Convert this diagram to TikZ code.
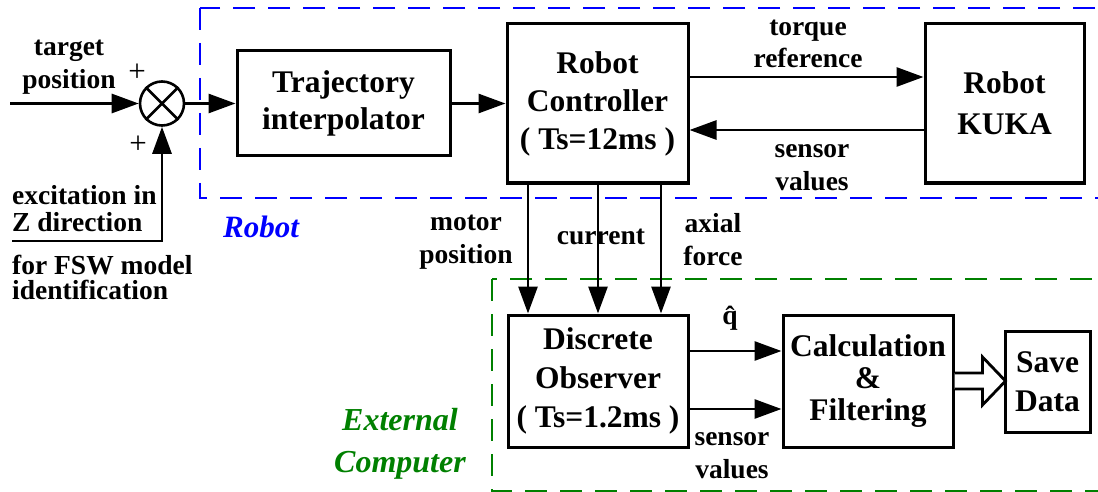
\documentclass[tikz,border=0pt]{standalone}
\usepackage{fontspec}
\setmainfont{Liberation Serif}
\usetikzlibrary{arrows.meta}
\definecolor{dgreen}{RGB}{0,128,0}
\begin{document}
\begin{tikzpicture}[x=1pt,y=-1pt,
  blk/.style={draw, line width=3pt, inner sep=0pt, align=center},
  bt/.style={font=\fontsize{31.5}{#1}\selectfont\bfseries},
  lbl/.style={inner sep=0pt, align=center, font=\fontsize{27.5}{#1}\selectfont\bfseries},
  lbl/.default=33,
  arr/.style={line width=2.8pt, -{Triangle[length=27pt,width=19pt]}},
  ln/.style={line width=2.8pt},
  zone/.style={line width=2.6pt, dash pattern=on 22pt off 13pt}]
\useasboundingbox (0,0) rectangle (1098,492);
\clip (0,0) rectangle (1098,492);
% zones
\draw[zone, blue] (200,8) rectangle (1140,198);
\draw[zone, dgreen] (492,279) rectangle (1140,491);
\node[inner sep=0pt, text=blue, font=\fontsize{31}{36}\selectfont\bfseries\itshape] (zr) at (261,227) {Robot};
\node[inner sep=0pt, align=center, text=dgreen, font=\fontsize{32}{42}\selectfont\bfseries\itshape] (ze) at (400,444) {External\\Computer};
% blocks
\node[circle, draw, line width=2.6pt, minimum size=44pt, inner sep=0pt] (sum) at (162,103.5) {};
\draw[ln] (sum.north west) -- (sum.south east) (sum.north east) -- (sum.south west);
\node[blk, bt=37, minimum width=213pt, minimum height=105pt] (traj) at (343.5,103.5) {Trajectory\\interpolator};
\node[blk, bt=38, minimum width=181pt, minimum height=159pt] (ctrl) at (597.5,103.5) {Robot\\Controller\\( Ts=12ms )};
\node[blk, bt=41, minimum width=159pt, minimum height=159pt] (kuka) at (1004.5,103.5) {Robot\\KUKA};
\node[blk, bt=39, minimum width=180pt, minimum height=132pt] (obs) at (598,381) {Discrete\\Observer\\( Ts=1.2ms )};
\node[blk, bt=32, minimum width=170pt, minimum height=132pt] (calc) at (868,381) {Calculation\\\&\\Filtering};
\node[blk, bt=39, minimum width=85pt, minimum height=101pt] (save) at (1047.5,381.5) {Save\\Data};
% inputs
\coordinate (tin) at (10,103.5);
\coordinate (exc) at (12,241);
\draw[arr] (tin) -- (sum);
\draw[arr] (exc) -| (sum.south);
\node[inner sep=0pt, font=\fontsize{31}{31}\selectfont] (p1) at (137,73) {+};
\node[inner sep=0pt, font=\fontsize{31}{31}\selectfont] (p2) at (138,145) {+};
\node[lbl] (ltp) at (69,67.5) {target\\position};
\node[lbl=27, anchor=west, align=left] (lex) at (12,208.5) {excitation in\\Z direction};
\node[lbl=25, anchor=west, align=left] (lfsw) at (12,277) {for FSW model\\identification};
% main chain
\draw[arr] (sum) -- (traj);
\draw[arr] (traj) -- (ctrl);
\coordinate (tq) at (0,77);
\coordinate (sv) at (0,130);
\draw[arr] (ctrl.east |- tq) -- (kuka.west |- tq);
\draw[arr] (kuka.west |- sv) -- (ctrl.east |- sv);
\node[lbl=32] (ltq) at (808,44) {torque\\reference};
\node[lbl] (lsv) at (812,167.8) {sensor\\values};
% down arrows
\coordinate (da) at (528,0);
\coordinate (db) at (598,0);
\coordinate (dc) at (661,0);
\draw[arr] (ctrl.south -| da) -- (obs.north -| da);
\draw[arr] (ctrl.south -| db) -- (obs.north -| db);
\draw[arr] (ctrl.south -| dc) -- (obs.north -| dc);
\node[lbl] (lmp) at (466,242) {motor\\position};
\node[lbl] (lcu) at (601,237) {current};
\node[lbl] (lax) at (713,240) {axial\\force};
% observer outputs
\coordinate (qh) at (0,351);
\coordinate (sv2) at (0,409);
\draw[arr] (obs.east |- qh) -- (calc.west |- qh);
\draw[arr] (obs.east |- sv2) -- (calc.west |- sv2);
\node[lbl] (lq) at (730,318) {\^{q}};
\node[lbl] (lsv2) at (732,455.8) {sensor\\values};
% hollow arrow
\draw[ln, fill=white, line join=miter] (calc.east) ++(0,-8) -- ++(28,0) -- ++(0,-16) -- ++(23,24) -- ++(-23,24) -- ++(0,-16) -- ++(-28,0);
\end{tikzpicture}
\end{document}
